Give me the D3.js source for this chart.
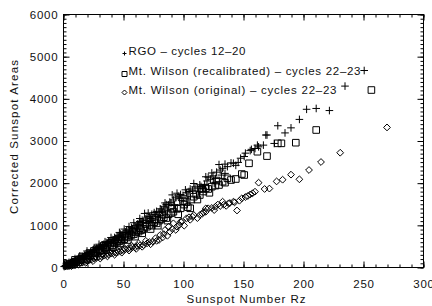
<!DOCTYPE html>
<html>
<head>
<meta charset="utf-8">
<script src="https://cdn.jsdelivr.net/npm/d3@7/dist/d3.min.js"></script>
<style>
  body { margin: 0; background: #fff; }
  svg { display: block; }
  text { font-family: "Liberation Sans", Arial, sans-serif; font-size: 11.5px; fill: #111; }
</style>
</head>
<body>
<div id="chart"></div>
<script>
// axis ticks
const xTicks = [0, 50, 100, 150, 200, 250, 300];
const yTicks = [0, 1000, 2000, 3000, 4000, 5000, 6000];

const legendLabels = [
  "RGO \u2013 cycles 12\u201320",
  "Mt. Wilson (recalibrated) \u2013 cycles 22\u201323",
  "Mt. Wilson (original) \u2013 cycles 22\u201323"
];

// [Rz, corrected area]
const rgo = [
  [1,10],[2,30],[3,40],[4,60],[5,70],[6,90],[7,100],[8,120],[9,110],[10,150],
  [11,160],[12,170],[13,210],[14,190],[15,230],[16,250],[17,240],[18,280],[19,270],[20,310],
  [21,330],[22,300],[23,360],[24,350],[25,400],[26,380],[27,420],[28,440],[29,430],[30,470],
  [31,500],[32,460],[33,520],[34,540],[35,510],[36,580],[37,560],[38,600],[39,620],[40,590],
  [41,650],[42,640],[43,700],[44,680],[45,720],[46,740],[47,700],[48,780],[49,760],[50,800],
  [52,830],[53,860],[55,880],[56,850],[57,940],[58,910],[60,980],[61,950],[62,1020],[63,1000],
  [64,1080],[65,1050],[66,1110],[67,1060],[68,1270],[69,1140],[70,1180],[72,1200],[73,1150],[74,1250],
  [75,1160],[76,1290],[77,1240],[78,1320],[80,1300],[81,1380],[82,1350],[84,1440],[85,1400],[86,1480],
  [88,1470],[89,1540],[90,1520],[91,1710],[92,1590],[94,1640],[96,1680],[97,1630],[98,1720],[100,1700],
  [102,1830],[103,1760],[105,1790],[106,1850],[108,1820],[110,1900],[112,1870],[114,1950],[115,1910],[117,1870],
  [119,2140],[120,2040],[121,2130],[123,2080],[125,2160],[127,2100],[128,2250],[130,2430],[131,2300],[133,2340],
  [135,2440],[135,2220],[137,2380],[140,2470],[142,2460],[144,2410],[146,2480],[148,2580],[151,2620],[152,2700],
  [156,2760],[157,2790],[160,2810],[162,2890],[163,2850],[167,2890],[169,3130],[170,3130],[176,2930],[179,3350],
  [185,3180],[190,3300],[197,3500],[203,3740],[211,3760],[222,3710],[235,4290],[251,4660],
  [3,80],[5,110],[8,60],[10,200],[12,120],[14,260],[18,200],[20,380],[24,280],[26,460],
  [28,350],[30,540],[33,440],[35,600],[38,500],[40,700],[42,560],[45,620],[47,820],[50,700],
  [51,900],[54,760],[55,960],[58,820],[59,1050],[62,900],[64,1150],[66,980],[70,1050],[71,1280],
  [74,1100],[79,1200],[83,1290],[85,1520],[87,1350],[93,1480],[95,1750],[99,1580],[104,1660],[109,1980],
  [113,1780],[118,1960],[124,2230],[126,1990],[132,2180]
];

const mwRecal = [
  [3,30],[5,60],[7,80],[9,110],[11,130],[13,160],[15,190],[17,200],[19,240],[21,260],
  [23,280],[25,320],[27,330],[29,370],[31,400],[33,410],[35,450],[37,470],[39,500],[41,520],
  [43,560],[45,580],[47,610],[49,640],[51,660],[53,700],[55,720],[57,760],[59,780],[61,820],
  [63,840],[65,870],[67,900],[70,956],[72,1000],[74,980],[76,1060],[78,1036],[80,1100],[82,1140],
  [84,1180],[86,1160],[88,1250],[90,1280],[92,1311],[95,1380],[98,1392],[101,1480],[103,1540],[106,1392],
  [107,1600],[109,1667],[111,1720],[114,1707],[117,1790],[119,1866],[121,1850],[124,1905],[127,1930],[130,1945],
  [133,2023],[135,2000],[137,2103],[140,2063],[144,2087],[149,2205],[151,2182],[155,2459],[162,2734],[170,2630],
  [179,2933],[182,2933],[194,2948],[211,3249],[257,4197],
  [4,80],[8,50],[10,170],[14,110],[16,250],[20,180],[22,330],[26,250],[28,420],[32,330],
  [34,500],[36,400],[40,580],[42,470],[46,660],[48,560],[52,740],[54,640],[58,840],[60,720],
  [64,920],[66,800],[69,1020],[73,900],[77,1130],[79,980],[83,1240],[87,1100],[91,1380],[96,1250],
  [100,1560],[104,1420],[112,1600],[116,1850],[122,1760],[128,2050]
];

const mwOrig = [
  [2,20],[4,30],[6,40],[8,60],[10,70],[12,90],[14,100],[16,120],[18,130],[20,150],
  [22,170],[24,180],[26,200],[28,220],[30,240],[32,250],[34,270],[36,290],[38,300],[40,320],
  [42,330],[44,340],[46,360],[48,380],[50,400],[52,420],[54,430],[56,450],[58,470],[60,467],
  [62,500],[64,510],[67,522],[70,560],[72,590],[75,600],[78,620],[81,759],[83,700],[85,877],
  [88,956],[89,837],[92,1036],[95,956],[98,1075],[99,1075],[103,1155],[106,1120],[108,1193],[109,1233],
  [114,1233],[117,1300],[119,1311],[119,1390],[121,1392],[124,1400],[127,1430],[131,1447],[133,1549],[134,1478],
  [138,1510],[139,1518],[142,1549],[143,1534],[145,1340],[147,1572],[149,1629],[152,1660],[154,1684],[156,1720],
  [158,1750],[160,1786],[163,2000],[168,1850],[172,1860],[178,2030],[183,2070],[190,2190],[197,2080],[205,2300],
  [215,2490],[231,2710],[270,3310],
  [3,50],[7,20],[9,100],[13,60],[15,150],[19,100],[21,200],[25,140],[27,260],[31,200],
  [33,310],[37,250],[39,350],[43,290],[45,400],[49,340],[51,450],[55,390],[57,510],[61,430],
  [63,560],[66,480],[69,620],[73,540],[77,680],[80,640],[84,780],[87,740],[91,900],[94,880],
  [97,1000],[101,980],[105,1180],[112,1160],[116,1260],[126,1350],[129,1480],[136,1450]
];

//
const w = 432, h = 306;
const plot = { l: 63, r: 423, t: 14, b: 267 };

const x = d3.scaleLinear().domain([0, 300]).range([plot.l, plot.r]);
const y = d3.scaleLinear().domain([0, 6000]).range([plot.b, plot.t]);

const svg = d3.select("#chart").append("svg")
  .attr("width", w)
  .attr("height", h)
  .attr("viewBox", [0, 0, w, h]);

// axes: ticks point inward on all four sides
const xMinor = d3.range(0, 301, 10);
const yMinor = d3.range(0, 6001, 100);

const axes = svg.append("g").attr("class", "axes");

const styleAxis = (g) => {
  g.select(".domain").remove();
  g.selectAll("line").attr("stroke", "#000").attr("stroke-width", 1);
};

axes.append("g")
  .attr("transform", `translate(0.5,${plot.b + 0.5})`)
  .call(d3.axisBottom(x).tickValues(xMinor).tickSize(-3).tickFormat(""))
  .call(styleAxis);
axes.append("g")
  .attr("transform", `translate(0.5,${plot.b + 0.5})`)
  .call(d3.axisBottom(x).tickValues(xTicks).tickSize(-6).tickPadding(12))
  .call(styleAxis)
  .call((g) => g.selectAll("text").attr("font-size", 11.5).attr("letter-spacing", "0.8px"));
axes.append("g")
  .attr("transform", `translate(0.5,${plot.t + 0.5})`)
  .call(d3.axisTop(x).tickValues(xMinor).tickSize(-3).tickFormat(""))
  .call(styleAxis);
axes.append("g")
  .attr("transform", `translate(0.5,${plot.t + 0.5})`)
  .call(d3.axisTop(x).tickValues(xTicks).tickSize(-6).tickFormat(""))
  .call(styleAxis);

axes.append("g")
  .attr("transform", `translate(${plot.l + 0.5},0.5)`)
  .call(d3.axisLeft(y).tickValues(yMinor).tickSize(-3).tickFormat(""))
  .call(styleAxis);
axes.append("g")
  .attr("transform", `translate(${plot.l + 0.5},0.5)`)
  .call(d3.axisLeft(y).tickValues(yTicks).tickSize(-6).tickPadding(5).tickFormat(d3.format("d")))
  .call(styleAxis)
  .call((g) => g.selectAll("text").attr("font-size", 11.5).attr("letter-spacing", "0.8px"));
axes.append("g")
  .attr("transform", `translate(${plot.r + 0.5},0.5)`)
  .call(d3.axisRight(y).tickValues(yMinor).tickSize(-3).tickFormat(""))
  .call(styleAxis);
axes.append("g")
  .attr("transform", `translate(${plot.r + 0.5},0.5)`)
  .call(d3.axisRight(y).tickValues(yTicks).tickSize(-6).tickFormat(""))
  .call(styleAxis);

svg.append("rect")
  .attr("x", plot.l + 0.5)
  .attr("y", plot.t + 0.5)
  .attr("width", plot.r - plot.l)
  .attr("height", plot.b - plot.t)
  .attr("fill", "none")
  .attr("stroke", "#000")
  .attr("stroke-width", 1);

// axis titles
svg.append("text")
  .attr("x", (plot.l + plot.r) / 2 + 3)
  .attr("y", 303)
  .attr("text-anchor", "middle")
  .attr("textLength", 119)
  .attr("lengthAdjust", "spacing")
  .text("Sunspot Number Rz");

svg.append("text")
  .attr("transform", "translate(18,137) rotate(-90)")
  .attr("text-anchor", "middle")
  .attr("textLength", 154)
  .attr("lengthAdjust", "spacing")
  .text("Corrected Sunspot Areas");

// symbol shapes
const plus = (s) => `M${-s},0H${s}M0,${-s}V${s}`;
const square = (s) => `M${-s},${-s}H${s}V${s}H${-s}Z`;
const diamond = (s) => `M0,${-s}L${s},0L0,${s}L${-s},0Z`;

const series = [
  { data: rgo, shape: plus(3.8), legend: plus(2) },
  { data: mwRecal, shape: square(3.3), legend: square(2.5) },
  { data: mwOrig, shape: diamond(3.4), legend: diamond(2.5) }
];

const content = svg.append("g").attr("class", "content");
series.forEach((s) => {
  content.append("g")
    .selectAll("path")
    .data(s.data)
    .join("path")
    .attr("transform", (d) => `translate(${x(d[0])},${y(d[1])})`)
    .attr("d", s.shape)
    .attr("fill", "none")
    .attr("stroke", "#000")
    .attr("stroke-width", 1);
});

// legend
const legendY = [54.5, 75, 93.5];
const legendW = [117, 232, 208];
const legend = svg.append("g").attr("class", "legend");
series.forEach((s, i) => {
  legend.append("path")
    .attr("transform", `translate(124.5,${legendY[i] - 1})`)
    .attr("d", s.legend)
    .attr("fill", "none")
    .attr("stroke", "#000")
    .attr("stroke-width", 1);
  legend.append("text")
    .attr("x", 128.5)
    .attr("y", legendY[i])
    .attr("textLength", legendW[i])
    .attr("lengthAdjust", "spacing")
    .text(legendLabels[i]);
});
</script>
</body>
</html>
